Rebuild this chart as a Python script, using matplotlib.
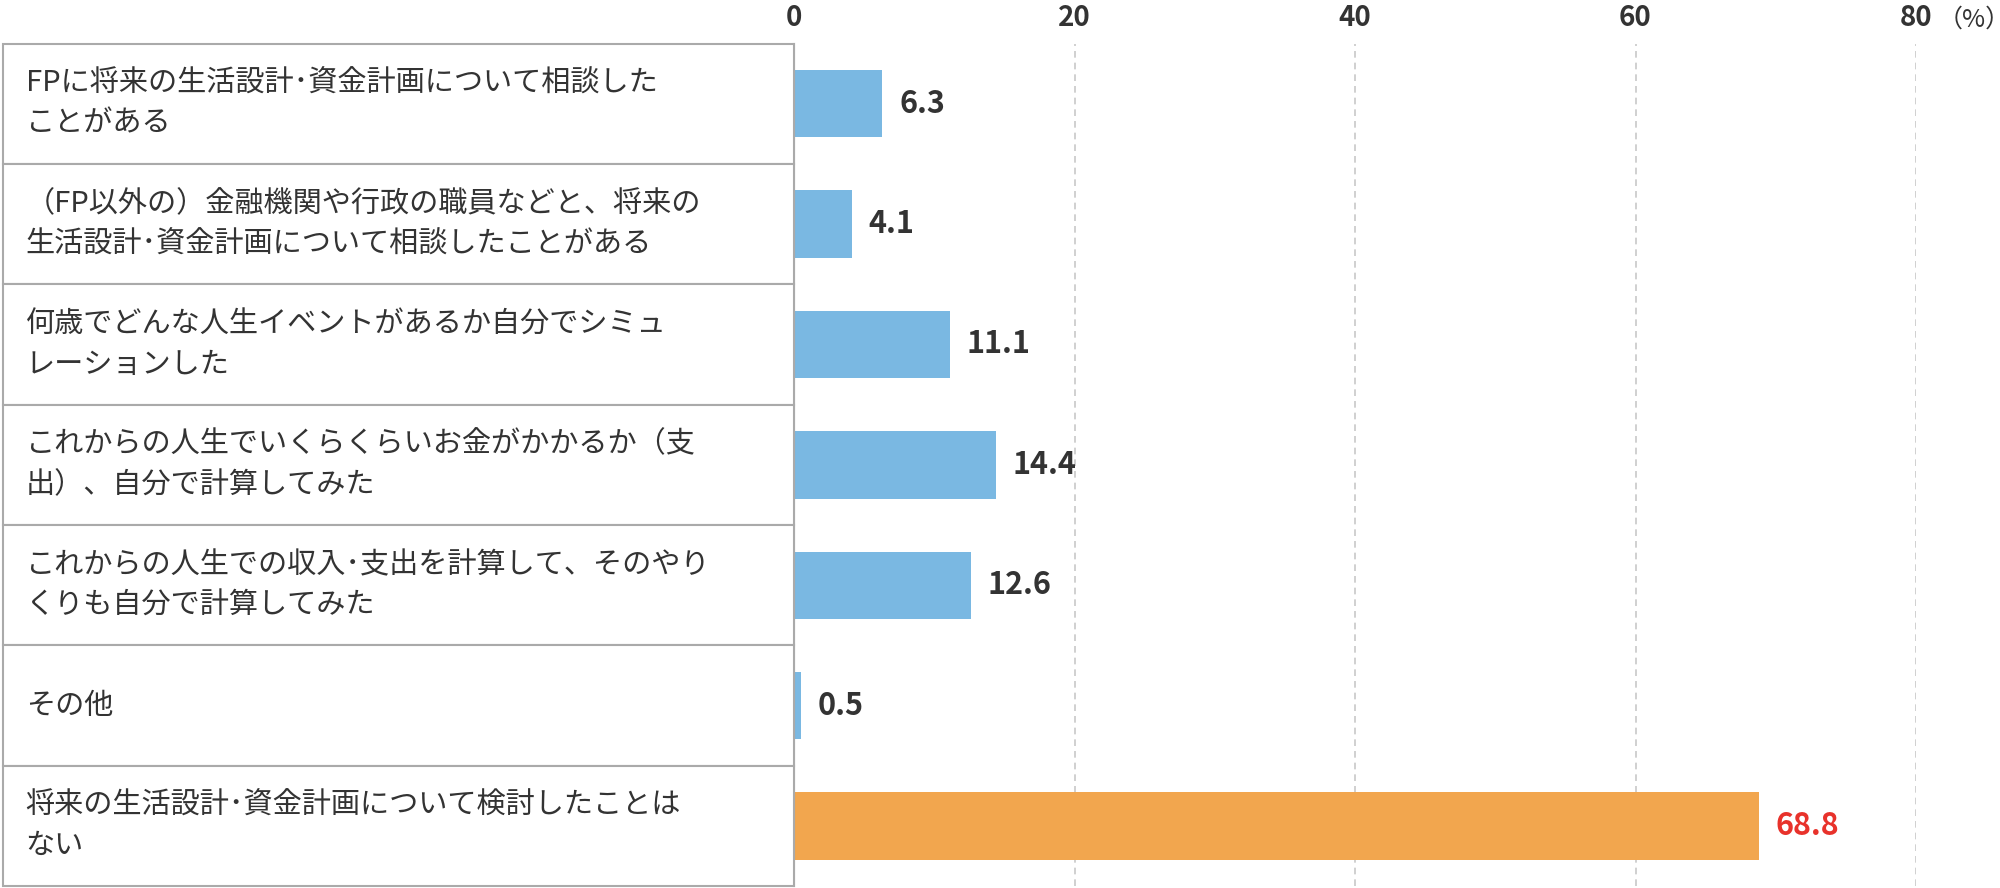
import matplotlib.pyplot as plt
from matplotlib.patches import Rectangle

plt.rcParams['font.family'] = ['Noto Sans CJK JP', 'DejaVu Sans']

labels = [
    "FPに将来の生活設計･資金計画について相談した\nことがある",
    "（FP以外の）金融機関や行政の職員などと、将来の\n生活設計･資金計画について相談したことがある",
    "何歳でどんな人生イベントがあるか自分でシミュ\nレーションした",
    "これからの人生でいくらくらいお金がかかるか（支\n出）、自分で計算してみた",
    "これからの人生での収入･支出を計算して、そのやり\nくりも自分で計算してみた",
    "その他",
    "将来の生活設計･資金計画について検討したことは\nない",
]
values = [6.3, 4.1, 11.1, 14.4, 12.6, 0.5, 68.8]
bar_colors = ["#7ab8e2"] * 6 + ["#f2a64e"]
value_colors = ["#333333"] * 6 + ["#e8322b"]
ticks = [0, 20, 40, 60, 80]

fig = plt.figure(figsize=(20, 8.88), dpi=100)
left, right, top, bottom = 0.397, 0.958, 0.951, 0.002
ax = fig.add_axes([left, bottom, right - left, top - bottom])

ys = range(len(values))
ax.barh(ys, values, height=0.56, color=bar_colors)
for y, v, c in zip(ys, values, value_colors):
    ax.text(v + 1.2, y, f"{v:.1f}", va="center", ha="left", fontsize=22,
            fontweight="bold", color=c)

ax.set_xlim(0, 80)
ax.set_ylim(len(values) - 0.5, -0.5)
ax.set_xticks(ticks)
ax.set_xticklabels([str(t) for t in ticks], fontsize=20, fontweight="bold", color="#333333")
ax.xaxis.tick_top()
ax.tick_params(axis="x", length=0, pad=8)
ax.set_yticks([])
for t in ticks[1:]:
    ax.axvline(t, color="#c8c8c8", linestyle=(0, (4, 3)), linewidth=1.2, zorder=0)
for s in ["top", "right", "bottom"]:
    ax.spines[s].set_visible(False)
ax.spines["left"].set_color("#aaaaaa")
ax.spines["left"].set_linewidth(1.5)
fig.text(right + 0.011, 0.978, "（%）", fontsize=18, color="#333333", va="center", ha="left")

# label table on the left
n = len(labels)
rh = (top - bottom) / n
for i, lab in enumerate(labels):
    y0 = top - (i + 1) * rh
    fig.patches.append(Rectangle((0.0013, y0), left - 0.0013, rh, transform=fig.transFigure,
                                 facecolor="white", edgecolor="#aaaaaa", linewidth=1.5))
    fig.text(0.0128, y0 + rh / 2, lab, fontsize=21, color="#333333", va="center", ha="left",
             linespacing=1.45)

fig.savefig("out.png", dpi=100)
